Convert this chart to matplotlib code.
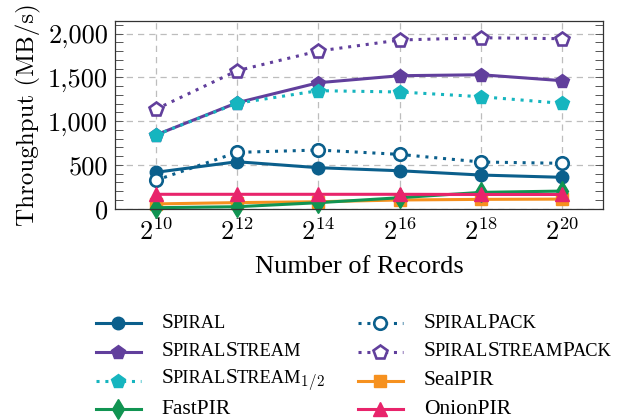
import matplotlib
matplotlib.use("Agg")
import matplotlib.pyplot as plt
from matplotlib.ticker import MultipleLocator, FixedLocator
from matplotlib.lines import Line2D
from matplotlib.offsetbox import (DrawingArea, TextArea, HPacker, VPacker,
                                  AnchoredOffsetbox)

# --- Data ---
records = [2**10, 2**12, 2**14, 2**16, 2**18, 2**20]
x_labels = [r"$2^{10}$", r"$2^{12}$", r"$2^{14}$", r"$2^{16}$", r"$2^{18}$", r"$2^{20}$"]

spiral = [416, 537, 469, 434, 385, 359]
spiral_pack = [324, 644, 671, 621, 534, 519]
spiral_stream = [842, 1211, 1440, 1520, 1531, 1463]
spiral_stream_pack = [1136, 1577, 1802, 1928, 1954, 1943]
spiral_stream_half = [842, 1205, 1349, 1334, 1280, 1204]
sealpir = [55, 70, 80, 100, 107, 110]
fastpir = [12, 23, 69, 126, 187, 202]
onionpir = [165, 165, 165, 165, 163, 163]

y_ticks = [0, 500, 1000, 1500, 2000]
y_tick_labels = ["0", "500", "1,000", "1,500", "2,000"]

# legend names written as small caps pieces: (text, is_capital)
names = {
    "spiral": [("S", 1), ("PIRAL", 0)],
    "spiral_pack": [("S", 1), ("PIRAL", 0), ("P", 1), ("ACK", 0)],
    "spiral_stream": [("S", 1), ("PIRAL", 0), ("S", 1), ("TREAM", 0)],
    "spiral_stream_pack": [("S", 1), ("PIRAL", 0), ("S", 1), ("TREAM", 0), ("P", 1), ("ACK", 0)],
    "spiral_stream_half": [("S", 1), ("PIRAL", 0), ("S", 1), ("TREAM", 0), (r"$_{1/2}$", 1)],
    "sealpir": [("SealPIR", 1)],
    "fastpir": [("FastPIR", 1)],
    "onionpir": [("OnionPIR", 1)],
}

# --- Style ---
BLUE = "#0b5f8c"
PURPLE = "#613f9c"
CYAN = "#16b5bf"
GREEN = "#119452"
ORANGE = "#f6911f"
PINK = "#e8246b"
DOTS = (0, (1, 1.9))
BIG = 15.5
SMALL = 13.2

plt.rcParams["mathtext.fontset"] = "cm"
plt.rcParams["font.family"] = ["Liberation Serif", "DejaVu Serif"]

fig = plt.figure(figsize=(6.18, 4.2), dpi=100)
ax = fig.add_axes([0.186, 0.503, 0.79, 0.448])

# key, values, color, marker, linestyle, filled, markersize
series = [
    ("spiral", spiral, BLUE, "o", "-", True, 9),
    ("spiral_pack", spiral_pack, BLUE, "o", DOTS, False, 9),
    ("spiral_stream", spiral_stream, PURPLE, "p", "-", True, 10),
    ("spiral_stream_pack", spiral_stream_pack, PURPLE, "p", DOTS, False, 10),
    ("spiral_stream_half", spiral_stream_half, CYAN, "p", DOTS, True, 10),
    ("sealpir", sealpir, ORANGE, "s", "-", True, 8),
    ("fastpir", fastpir, GREEN, "d", "-", True, 10),
    ("onionpir", onionpir, PINK, "^", "-", True, 10),
]


def style(color, marker, ls, filled, ms):
    return dict(color=color, linestyle=ls, linewidth=2.2, marker=marker,
                markersize=ms, markerfacecolor=color if filled else "white",
                markeredgecolor=color, markeredgewidth=1 if filled else 1.9)


for key, vals, color, marker, ls, filled, ms in series:
    ax.plot(records, vals, clip_on=False, **style(color, marker, ls, filled, ms))

ax.set_xscale("log", base=2)
ax.set_xlim(2**9, 2**21)
ax.set_ylim(0, 2150)

ax.xaxis.set_major_locator(FixedLocator(records))
ax.xaxis.set_minor_locator(FixedLocator([]))
ax.set_xticklabels(x_labels, fontsize=19)
ax.tick_params(axis="x", length=0, pad=7)

ax.set_yticks(y_ticks)
ax.set_yticklabels(y_tick_labels, family="cmr10", fontsize=19)
ax.yaxis.set_minor_locator(MultipleLocator(100))
ax.tick_params(axis="y", which="both", direction="in", left=True, right=True,
               length=6, width=0.7, color="#555555", pad=5)

ax.grid(True, which="major", color="#bdbdbd", linestyle=(0, (5, 4)), linewidth=0.9)
ax.set_axisbelow(True)
for sp in ax.spines.values():
    sp.set_linewidth(0.9)
    sp.set_color("#333333")

ax.set_ylabel("Throughput (MB/s)", family="cmr10", fontsize=18, labelpad=5)
ax.set_xlabel("Number of Records", fontsize=19, labelpad=8)

# --- Legend built by hand so the small caps come out right ---
HANDLE_W = 32.5   # points
ROW_H = 20.7      # points


def legend_row(key, color, marker, ls, filled, ms):
    da = DrawingArea(HANDLE_W, ROW_H, 0, 0)
    da.add_artist(Line2D([0, HANDLE_W], [ROW_H / 2, ROW_H / 2],
                         **style(color, None, ls, filled, ms)))
    da.add_artist(Line2D([HANDLE_W / 2], [ROW_H / 2],
                         **style(color, marker, "none", filled, ms)))
    pieces = [TextArea(t, textprops=dict(size=BIG if cap else SMALL))
              for t, cap in names[key]]
    label = HPacker(children=pieces, align="baseline", pad=0, sep=-0.6)
    return HPacker(children=[da, label], align="center", pad=0, sep=15)


# pgfplots fills the legend row by row: left column gets the even entries
columns = [series[0::2], series[1::2]]
col_left = [0.155, 0.579]
for entries, x0 in zip(columns, col_left):
    rows = [legend_row(k, c, m, ls, f, ms) for k, _, c, m, ls, f, ms in entries]
    box = VPacker(children=rows, align="left", pad=0, sep=0)
    fig.add_artist(AnchoredOffsetbox(loc="upper left", child=box, pad=0,
                                     borderpad=0, frameon=False,
                                     bbox_to_anchor=(x0, 0.265),
                                     bbox_transform=fig.transFigure))

fig.savefig("out.png", dpi=100)
